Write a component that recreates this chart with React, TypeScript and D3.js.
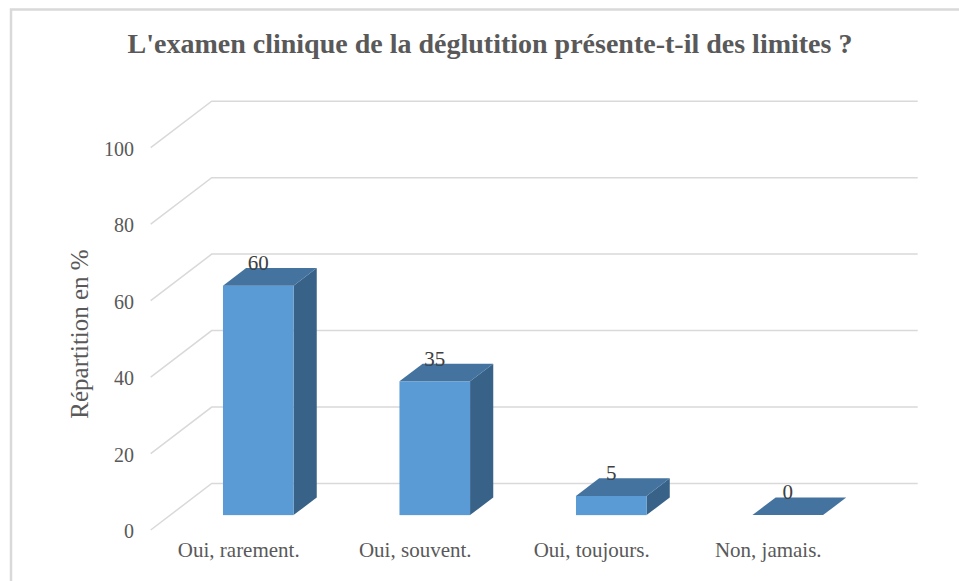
import React, { useRef, useEffect } from "react";
import * as d3 from "d3";

const categories = ["Oui, rarement.", "Oui, souvent.", "Oui, toujours.", "Non, jamais."];
const values = [60, 35, 5, 0];
const yTicks = [0, 20, 40, 60, 80, 100];
const title = "L'examen clinique de la déglutition présente-t-il des limites ?";
const yTitle = "Répartition en %";

const App = () => {
  const svgRef = useRef<SVGSVGElement>(null);

  useEffect(() => {
    const svg = d3.select(svgRef.current);
    svg.selectAll("*").remove();

    const width = 959;
    const height = 581;
    const font = "'Liberation Serif', 'Times New Roman', serif";

    // 3D depth vector (front plane -> back wall)
    const depthX = 61;
    const depthY = -46.5;
    const d0 = 0.32; // bar front
    const d1 = 0.7; // bar back

    svg.attr("width", width).attr("height", height);

    // frame
    svg.append("path")
      .attr("d", `M11,${height} L11,9.5 L${width},9.5`)
      .attr("fill", "none")
      .attr("stroke", "#d9d9d9")
      .attr("stroke-width", 2.5);

    const x = d3.scaleBand<string>()
      .domain(categories)
      .range([150.5, 856.5])
      .paddingInner(0.6)
      .paddingOuter(0.3);

    const y = d3.scaleLinear().domain([0, 100]).range([530, 147.7]);

    // gridlines: front edge -> back wall -> right
    svg.selectAll("path.grid")
      .data(yTicks)
      .join("path")
      .attr("class", "grid")
      .attr("d", d => `M150.7,${y(d)} L${150.7 + depthX},${y(d) + depthY} L917.7,${y(d) + depthY}`)
      .attr("fill", "none")
      .attr("stroke", "#d9d9d9")
      .attr("stroke-width", 1.5);

    // tick labels
    svg.selectAll("text.tick")
      .data(yTicks)
      .join("text")
      .attr("class", "tick")
      .attr("x", 134)
      .attr("y", d => y(d) + 8)
      .attr("text-anchor", "end")
      .attr("fill", "#595959")
      .style("font-family", font)
      .style("font-size", "20px")
      .text(d => d);

    const bw = x.bandwidth();
    const ox0 = depthX * d0, oy0 = depthY * d0;
    const ox1 = depthX * d1, oy1 = depthY * d1;

    const bars = svg.selectAll("g.bar")
      .data(categories.map((c, i) => ({ c, v: values[i] })))
      .join("g")
      .attr("class", "bar");

    // side face
    bars.filter(d => d.v > 0).append("path")
      .attr("d", d => {
        const xr = x(d.c)! + bw;
        return `M${xr + ox0},${y(0) + oy0} L${xr + ox1},${y(0) + oy1} L${xr + ox1},${y(d.v) + oy1} L${xr + ox0},${y(d.v) + oy0} Z`;
      })
      .attr("fill", "#386287");

    // front face
    bars.filter(d => d.v > 0).append("rect")
      .attr("x", d => x(d.c)! + ox0)
      .attr("y", d => y(d.v) + oy0)
      .attr("width", bw)
      .attr("height", d => y(0) - y(d.v))
      .attr("fill", "#5b9bd5");

    // top face
    bars.append("path")
      .attr("d", d => {
        const xl = x(d.c)!;
        const yt = y(d.v);
        return `M${xl + ox0},${yt + oy0} L${xl + bw + ox0},${yt + oy0} L${xl + bw + ox1},${yt + oy1} L${xl + ox1},${yt + oy1} Z`;
      })
      .attr("fill", "#44739f");

    // data labels
    bars.append("text")
      .attr("x", d => x(d.c)! + bw / 2 + ox0)
      .attr("y", d => y(d.v) + oy1 + 2)
      .attr("text-anchor", "middle")
      .attr("fill", "#404040")
      .style("font-family", font)
      .style("font-size", "21px")
      .text(d => d.v);

    // category labels
    svg.selectAll("text.cat")
      .data(categories)
      .join("text")
      .attr("class", "cat")
      .attr("x", d => x(d)! + bw / 2)
      .attr("y", 557)
      .attr("text-anchor", "middle")
      .attr("fill", "#595959")
      .style("font-family", font)
      .style("font-size", "21px")
      .text(d => d);

    // axis title
    svg.append("text")
      .attr("transform", "translate(88,334) rotate(-90)")
      .attr("text-anchor", "middle")
      .attr("fill", "#595959")
      .style("font-family", font)
      .style("font-size", "25px")
      .text(yTitle);

    // chart title
    svg.append("text")
      .attr("x", 490)
      .attr("y", 53)
      .attr("text-anchor", "middle")
      .attr("fill", "#595959")
      .style("font-family", font)
      .style("font-size", "28px")
      .style("font-weight", "bold")
      .text(title);
  }, []);

  return <svg ref={svgRef} style={{ position: "absolute", left: 0, top: 0 }} />;
};

export default App;
